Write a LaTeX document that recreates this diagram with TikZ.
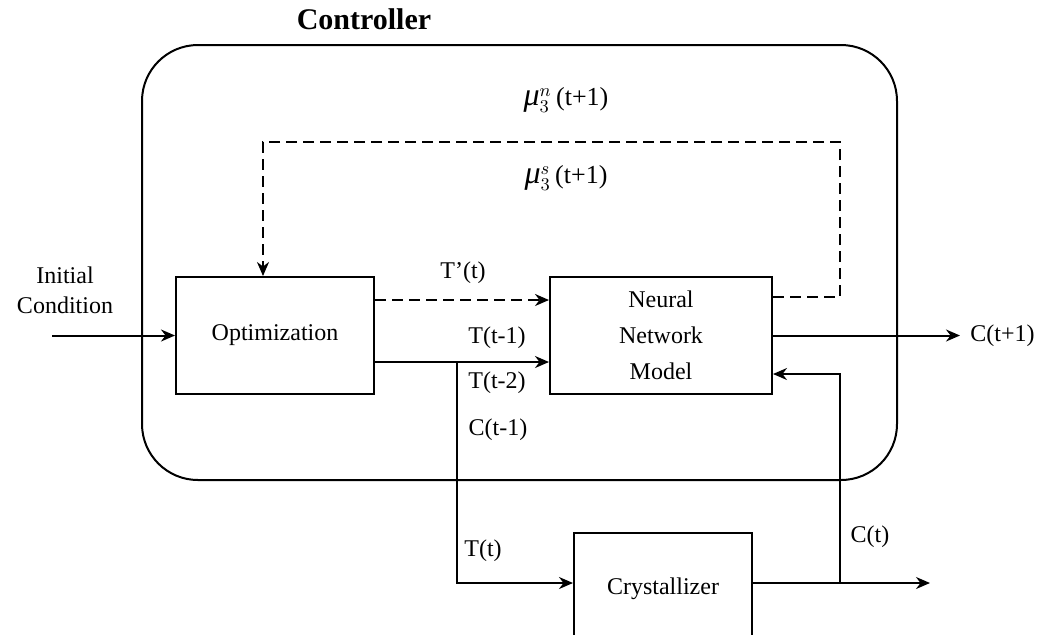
\documentclass[tikz,border=0pt]{standalone}
\usepackage{fontspec}
\setmainfont{Liberation Serif}
\usetikzlibrary{
    shapes,
    positioning,
    arrows.meta
}
\tikzset{block/.style={
    draw,
    line width=1pt,
    minimum height=58.5pt,
    align=center
}}
\tikzset{arrow/.style={->,>={Stealth[length=7pt,width=6pt]},line width=1pt}}
\tikzset{feedback/.style={dash pattern=on 5.5pt off 3pt}}
\tikzset{signal/.style={inner sep=0pt}}
\newcommand{\muvar}[1]{${\hbox{\fontsize{16}{18}\selectfont\itshape μ}}_{3}^{#1}$}

\begin{document}
\begin{tikzpicture}[
            x=0.5pt,
            y=-0.5pt,
            font=\fontsize{12}{15}\selectfont,
    ]
        \clip (0,0) rectangle (1055,634);

        % controller frame
        \draw[line width=1pt, rounded corners=28pt]
            (142,45) rectangle (897,480);
        \node[signal, font=\fontsize{15}{18}\selectfont\bfseries]
            (controller) at (364,19)
            {Controller};

        \node[block, minimum width=99pt]
            (opt) at (275,335.5)
            {Optimization};

        \node[block, minimum width=111pt, font=\fontsize{12}{18}\selectfont]
            (nn) at (661,335.5)
            {Neural\\Network\\Model};

        \node[block, minimum width=89pt, minimum height=56pt]
            (cry) at (663,589)
            {Crystallizer};

        \node[signal, align=center]
            (init) at (65,290)
            {Initial\\Condition};
        \node[signal, inner xsep=5pt, anchor=west]
            (next) at (960,335.5)
            {C(t+1)};

        \coordinate (start) at (52,335.5);
        \coordinate (split) at (457,362);
        \coordinate (tap) at (840,583);
        \coordinate (plant-out) at (930,583);
        \coordinate (fb-top) at (840,142);

        % signal labels
        \node[signal, font=\fontsize{13}{15}\selectfont] (mu-n) at (566,100) {\muvar{n}\,(t+1)};
        \node[signal, font=\fontsize{13}{15}\selectfont] (mu-s) at (566,178) {\muvar{s}\,(t+1)};
        \node[signal] (t-pred) at (463,273) {T'(t)};
        \node[signal] (t-1) at (497,338) {T(t-1)};
        \node[signal] (t-2) at (497,383) {T(t-2)};
        \node[signal] (c-1) at (498,430) {C(t-1)};
        \node[signal] (t-now) at (483,551) {T(t)};
        \node[signal] (c-now) at (870,537) {C(t)};

        \draw[arrow] (start) -- (opt.west);
        \draw[arrow, feedback] ([yshift=17.75pt]opt.east) -- ([yshift=17.75pt]nn.west);
        \draw[arrow] ([yshift=-13.25pt]opt.east) -- ([yshift=-13.25pt]nn.west);
        \draw[arrow] (split) |- (cry.west |- tap);
        \draw[arrow] (cry.east |- tap) -- (plant-out);
        \draw[arrow] (tap) |- ([yshift=-19.25pt]nn.east);
        \draw[arrow] (nn.east) -- (next.west);

        \draw[arrow, feedback] ([yshift=19.25pt]nn.east) -| (fb-top) -| ([xshift=-6pt]opt.north);

    \end{tikzpicture}
\end{document}
